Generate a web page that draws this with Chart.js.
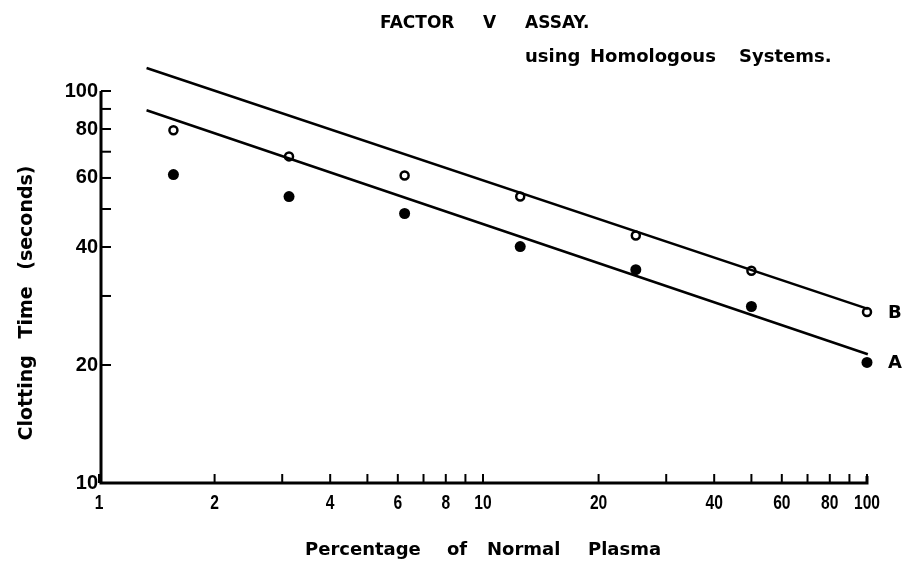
<!DOCTYPE html>
<html>
<head>
<meta charset="utf-8">
<script src="https://cdn.jsdelivr.net/npm/chart.js@4"></script>
<style>
  html, body { margin: 0; padding: 0; background: #fff; }
  #wrap { width: 902px; height: 564px; }
</style>
</head>
<body>
<div id="wrap"><canvas id="assayChart" width="902" height="564"></canvas></div>
<script>
// dilutions (% of normal plasma) and clotting times
const dilution = [1.5625, 3.125, 6.25, 12.5, 25, 50, 100];
const timeA = [61.2, 53.8, 48.7, 40.1, 35.0, 28.2, 20.3];
const timeB = [79.4, 68.1, 60.9, 53.8, 42.8, 34.8, 27.3];

// fitted straight lines (end points)
const fitX = [1.33, 100.5];
const fitA = [89.3, 21.3];
const fitB = [114.5, 27.8];

// axis ticks
const xTicks = [1, 2, 3, 4, 5, 6, 7, 8, 9, 10, 20, 30, 40, 50, 60, 70, 80, 90, 100];
const xLabels = [1, 2, 4, 6, 8, 10, 20, 40, 60, 80, 100];
const yTicks = [10, 20, 30, 40, 50, 60, 70, 80, 90, 100];
const yLabels = [10, 20, 40, 60, 80, 100];

const FONT = "'Liberation Sans', Helvetica, Arial, sans-serif";
const WIDE = "'DejaVu Sans', 'Liberation Sans', sans-serif";

const toPoints = (xs, ys) => xs.map((x, i) => ({ x: x, y: ys[i] }));

// draws words one by one (the typeset titles have uneven spacing)
function words(ctx, list, y) {
  list.forEach(([w, x]) => ctx.fillText(w, x, y));
}

// axes, inside ticks and texts
const paperPlugin = {
  id: "paper",
  afterDatasetsDraw(chart) {
    const ctx = chart.ctx;
    const { left, right, top, bottom } = chart.chartArea;
    const sx = chart.scales.x;
    const sy = chart.scales.y;
    ctx.save();
    ctx.strokeStyle = "#000";
    ctx.lineWidth = 3;
    ctx.beginPath();
    ctx.moveTo(left + 2, top);
    ctx.lineTo(left + 2, bottom);
    ctx.lineTo(right, bottom);
    ctx.lineTo(right, bottom - 7);
    ctx.stroke();

    ctx.lineWidth = 2;
    xTicks.forEach((v) => {
      const px = sx.getPixelForValue(v);
      ctx.beginPath();
      ctx.moveTo(px, bottom);
      ctx.lineTo(px, bottom - 9);
      ctx.stroke();
    });
    yTicks.forEach((v) => {
      const py = sy.getPixelForValue(v);
      ctx.beginPath();
      ctx.moveTo(left + 2, py);
      ctx.lineTo(left + 12, py);
      ctx.stroke();
    });

    ctx.fillStyle = "#000";
    ctx.textBaseline = "middle";

    // condensed x tick labels
    ctx.font = "bold 20px " + FONT;
    ctx.textAlign = "center";
    xLabels.forEach((v) => {
      const s = String(v);
      ctx.fillText(s, sx.getPixelForValue(v), 503, ctx.measureText(s).width * 0.78);
    });

    ctx.textAlign = "left";
    ctx.font = "bold 17px " + WIDE;
    words(ctx, [["FACTOR", 380], ["V", 483], ["ASSAY.", 525]], 24);
    ctx.font = "bold 18px " + WIDE;
    words(ctx, [["using", 525], ["Homologous", 590], ["Systems.", 739]], 57);
    words(ctx, [["Percentage", 305], ["of", 447], ["Normal", 487], ["Plasma", 588]], 550);

    ctx.save();
    ctx.translate(27, 303);
    ctx.rotate(-Math.PI / 2);
    ctx.textAlign = "center";
    ctx.font = "bold 19px " + WIDE;
    ctx.wordSpacing = "10px";
    ctx.fillText("Clotting Time (seconds)", 0, 0);
    ctx.restore();

    // curve labels next to the last points
    ctx.textAlign = "left";
    ctx.font = "bold 18px " + WIDE;
    const last = dilution.length - 1;
    const lx = sx.getPixelForValue(dilution[last]) + 21;
    ctx.fillText("B", lx, sy.getPixelForValue(timeB[last]) + 1);
    ctx.fillText("A", lx, sy.getPixelForValue(timeA[last]) + 1);
    ctx.restore();
  },
};

new Chart(document.getElementById("assayChart").getContext("2d"), {
  type: "scatter",
  data: {
    datasets: [
      {
        label: "B fit",
        type: "line",
        data: toPoints(fitX, fitB),
        borderColor: "#000",
        borderWidth: 2.5,
        pointRadius: 0,
        clip: false,
      },
      {
        label: "A fit",
        type: "line",
        data: toPoints(fitX, fitA),
        borderColor: "#000",
        borderWidth: 2.5,
        pointRadius: 0,
        clip: false,
      },
      {
        label: "B",
        data: toPoints(dilution, timeB),
        pointRadius: 4,
        pointBorderWidth: 2.5,
        pointBackgroundColor: "#fff",
        pointBorderColor: "#000",
        clip: false,
      },
      {
        label: "A",
        data: toPoints(dilution, timeA),
        pointRadius: 5.5,
        pointBorderWidth: 0,
        pointBackgroundColor: "#000",
        pointBorderColor: "#000",
        clip: false,
      },
    ],
  },
  options: {
    responsive: false,
    animation: false,
    layout: { padding: { left: 0, top: 91, right: 35, bottom: 0 } },
    plugins: {
      legend: { display: false },
      tooltip: { enabled: false },
    },
    scales: {
      x: {
        type: "logarithmic",
        min: 1,
        max: 100,
        afterFit: (scale) => {
          scale.height = 81;
        },
        grid: { display: false, drawTicks: false },
        border: { display: false },
        ticks: { display: false },
      },
      y: {
        type: "logarithmic",
        min: 10,
        max: 100,
        afterBuildTicks: (scale) => {
          scale.ticks = yLabels.map((v) => ({ value: v }));
        },
        afterFit: (scale) => {
          scale.width = 99;
        },
        grid: { display: false, drawTicks: false },
        border: { display: false },
        ticks: {
          autoSkip: false,
          color: "#000",
          padding: 1,
          font: { family: FONT, size: 20, weight: "bold" },
          callback: (v) => String(v),
        },
      },
    },
  },
  plugins: [paperPlugin],
});
</script>
</body>
</html>
